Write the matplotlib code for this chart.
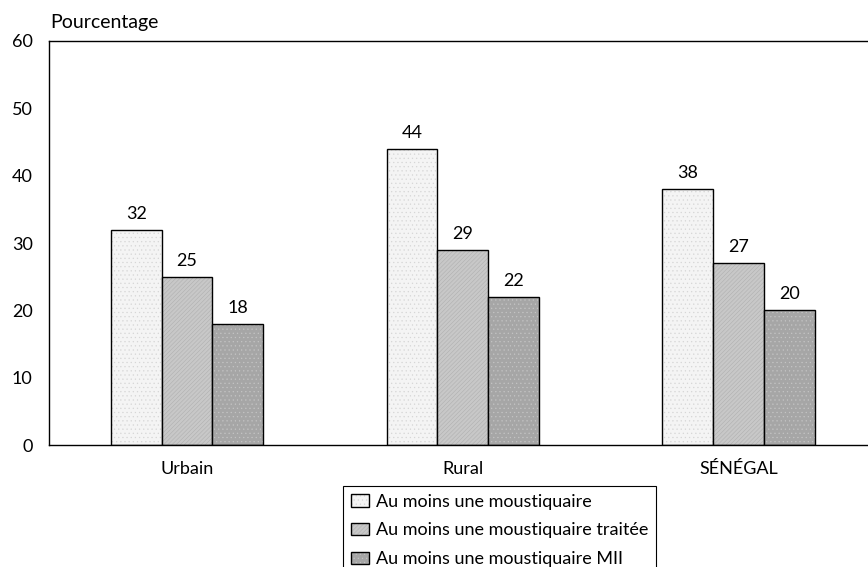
import numpy as np
import matplotlib.pyplot as plt
import matplotlib.colors as mcolors

plt.rcParams['font.family'] = ['Lato', 'DejaVu Sans']
plt.rcParams['hatch.linewidth'] = 0.4

categories = ["Urbain", "Rural", "SÉNÉGAL"]
series = ["Au moins une moustiquaire",
          "Au moins une moustiquaire traitée",
          "Au moins une moustiquaire MII"]
values = [
    [32, 44, 38],
    [25, 29, 27],
    [18, 22, 20],
]
colors = ["#f4f4f4", "#c8c8c8", "#a6a6a6"]
hatches = ["....", "////////", "...."]
hatch_colors = ["#d6d6d6", "#b0b0b0", "#c4c4c4"]

W, H = 868, 567
fig = plt.figure(figsize=(W / 100, H / 100), dpi=100)
# the frame runs past the right edge of the picture, as in the original
ax = fig.add_axes([49.3 / W, 1 - 445.3 / H, 827 / W, 404.6 / H])

x = np.arange(len(categories))
w = 0.184
for i, (name, vals) in enumerate(zip(series, values)):
    pos = x + (i - 1) * w
    bars = ax.bar(pos, vals, w, color=colors[i], edgecolor="black",
                  linewidth=1.0, label=name, hatch=hatches[i])
    for b in bars:
        b._hatch_color = mcolors.to_rgba(hatch_colors[i])
    for p, v in zip(pos, vals):
        ax.annotate(f"{v}", (p, v), xytext=(0, 11.5), textcoords="offset points",
                    ha="center", va="center", fontsize=13)

ax.set_xlim(-0.5, 2.5)
ax.set_ylim(0, 60)
ax.set_yticks(range(0, 61, 10))
ax.set_xticks(x)
ax.set_xticklabels(categories)
ax.tick_params(axis="both", length=0, labelsize=13)
ax.tick_params(axis="y", pad=12)
ax.tick_params(axis="x", pad=11)
for s in ax.spines.values():
    s.set_linewidth(1.0)

fig.text(50 / W, 1 - 22.7 / H, "Pourcentage", fontsize=14, va="center")

# legend box is cut by the bottom edge in the original too
leg = ax.legend(loc="upper left", bbox_to_anchor=(343.3 / W, 1 - 485.7 / H),
                bbox_transform=fig.transFigure, fontsize=13, fancybox=False,
                framealpha=1, edgecolor="black", borderpad=0.45,
                handlelength=1.0, handleheight=0.67, handletextpad=0.35,
                labelspacing=0.7, borderaxespad=0)
leg.get_frame().set_linewidth(0.8)

fig.savefig("out.png", dpi=100)
